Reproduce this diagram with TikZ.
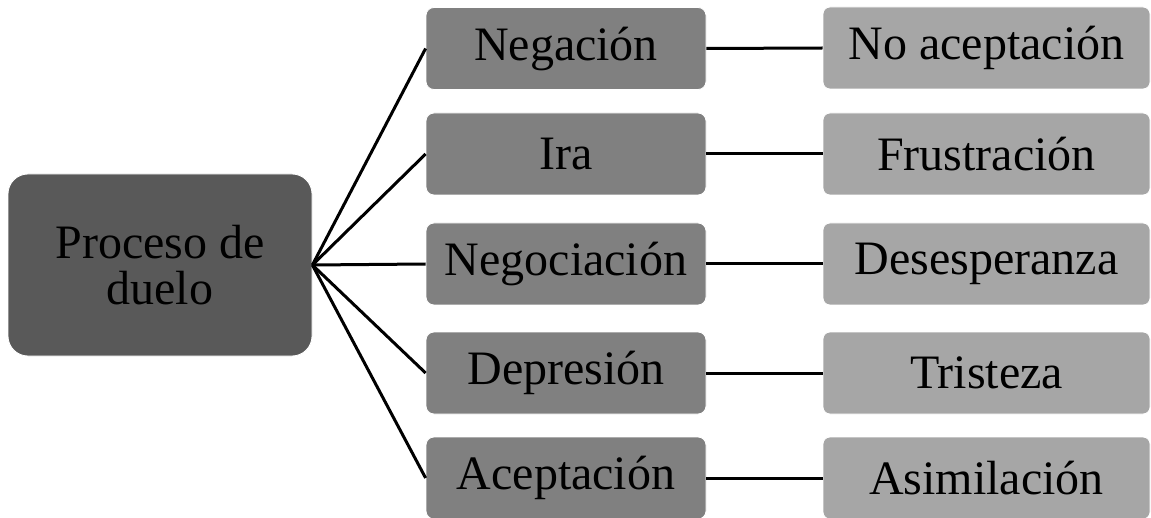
\documentclass[tikz,border=0pt]{standalone}
\usepackage{fontspec}
\setmainfont{Liberation Serif}
\definecolor{darkbox}{HTML}{595959}
\definecolor{midbox}{HTML}{808080}
\definecolor{lightbox}{HTML}{A6A6A6}
\tikzset{
  rootbox/.style={fill=darkbox, draw=white, line width=0.4pt, rounded corners=10pt,
    minimum width=152pt, minimum height=91pt, inner sep=0pt, align=center,
    font=\fontsize{24}{23}\selectfont, text=black},
  stagebox/.style={fill=midbox, draw=white, line width=0.4pt, rounded corners=4pt,
    minimum width=140pt, minimum height=41pt, inner sep=0pt,
    font=\fontsize{24}{28}\selectfont, text=black},
  feelbox/.style={fill=lightbox, draw=white, line width=0.4pt, rounded corners=3.5pt,
    minimum width=163.5pt, minimum height=41pt, inner sep=0pt,
    font=\fontsize{24}{28}\selectfont, text=black},
  link/.style={draw=black, line width=1.5pt}
}
\begin{document}
\begin{tikzpicture}[x=0.5pt,y=-0.5pt]
\useasboundingbox (0,0) rectangle (1151,518);
\clip (0,0) rectangle (1151,518);
\node[rootbox] (root) at (160,265) {Proceso de\\duelo};
\node[stagebox] (s1) at (566,48.5) {Negación};
\node[stagebox] (s2) at (566,154) {Ira};
\node[stagebox] (s3) at (566,264) {Negociación};
\node[stagebox] (s4) at (566,373) {Depresión};
\node[stagebox] (s5) at (566,478) {Aceptación};
\node[feelbox] (f1) at (986.5,48) {No aceptación};
\node[feelbox] (f2) at (986.5,154) {Frustración};
\node[feelbox] (f3) at (986.5,264) {Desesperanza};
\node[feelbox] (f4) at (986.5,373) {Tristeza};
\node[feelbox] (f5) at (986.5,478) {Asimilación};
\foreach \i in {1,...,5}{
  \draw[link] (root.east) -- (s\i.west);
  \draw[link] (s\i.east) -- (f\i.west);
}
\end{tikzpicture}
\end{document}
